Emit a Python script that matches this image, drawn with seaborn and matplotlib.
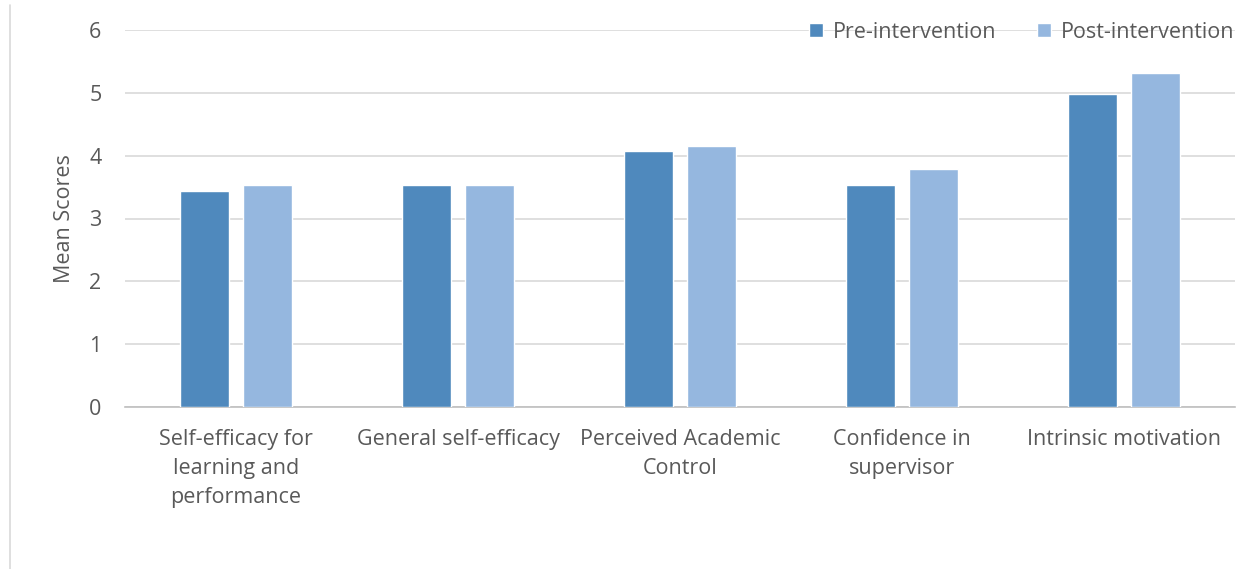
import pandas as pd
import matplotlib.pyplot as plt
import matplotlib.lines as mlines
import seaborn as sns

# --- dati ---
categorie = ["Self-efficacy for\nlearning and\nperformance",
             "General self-efficacy",
             "Perceived Academic\nControl",
             "Confidence in\nsupervisor",
             "Intrinsic motivation"]
pre = [3.44, 3.54, 4.08, 3.54, 4.98]
post = [3.54, 3.54, 4.15, 3.78, 5.32]
gruppi = ["Pre-intervention", "Post-intervention"]

df = pd.DataFrame({
    "categoria": categorie * 2,
    "gruppo": [gruppi[0]] * len(pre) + [gruppi[1]] * len(post),
    "valore": pre + post,
})

sns.set_theme(style="white")
plt.rcParams["font.family"] = ["Open Sans", "DejaVu Sans"]
grigio = "#595959"
fs = 15.5

fig = plt.figure(figsize=(12.58, 5.69), dpi=100)
ax = fig.add_axes([125 / 1258, 1 - 407 / 569, 1110 / 1258, 377 / 569])

sns.barplot(data=df, x="categoria", y="valore", hue="gruppo", order=categorie,
            hue_order=gruppi, palette=["#4F89BD", "#95B7DF"], width=0.56, gap=0.21,
            saturation=1, ax=ax, zorder=3)

ax.set_ylim(0, 6)
ax.set_xlim(-0.5, len(categorie) - 0.5)
ax.set_yticks(range(0, 7))
ax.yaxis.grid(True, color="#D9D9D9", linewidth=1.2, zorder=0)
ax.set_axisbelow(True)
for s in ["top", "right", "left"]:
    ax.spines[s].set_visible(False)
ax.spines["bottom"].set_color("#BFBFBF")
ax.spines["bottom"].set_linewidth(1.2)

ax.tick_params(axis="y", length=0, pad=17, labelsize=fs, labelcolor=grigio)
ax.tick_params(axis="x", which="major", length=0, pad=16, labelsize=fs, labelcolor=grigio)
for t in ax.get_xticklabels():
    t.set_linespacing(1.5)
ax.set_xticks([i - 0.5 for i in range(len(categorie) + 1)], minor=True)
ax.tick_params(axis="x", which="minor", length=7, color="#BFBFBF", width=1.2)
ax.set_xlabel("")
ax.set_ylabel("Mean Scores", fontsize=fs, color=grigio, labelpad=10)

ax.legend_.remove()
h, l = ax.get_legend_handles_labels()
fig.legend(h, l, loc="center right", bbox_to_anchor=(1254 / 1258, 1 - 32 / 569),
           ncol=2, frameon=False, fontsize=fs, handlelength=0.65, handleheight=0.65,
           handletextpad=0.45, columnspacing=1.9, labelcolor=grigio)

# bordo sinistro del riquadro
fig.add_artist(mlines.Line2D([10 / 1258, 10 / 1258], [0, 1 - 5 / 569],
                             color="#D9D9D9", linewidth=1.2))

plt.savefig("out.png", dpi=100)
